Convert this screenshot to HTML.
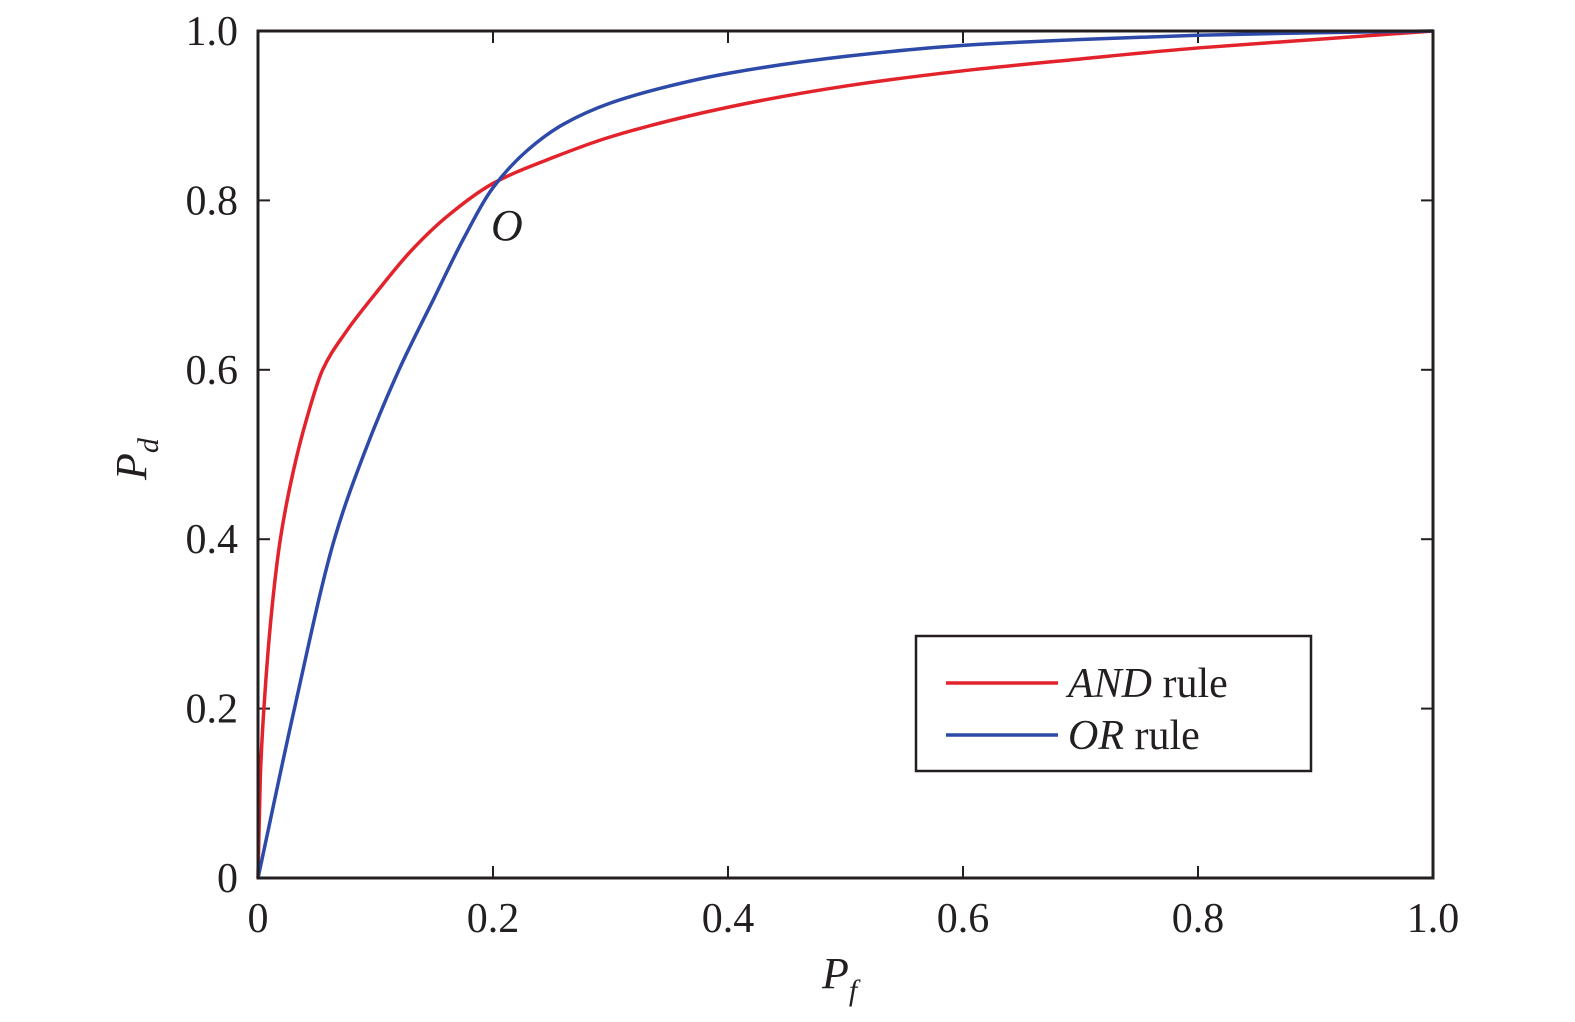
<!DOCTYPE html>
<html><head><meta charset="utf-8"><style>
html,body{margin:0;padding:0;background:#fff;width:1575px;height:1022px;overflow:hidden}
text{font-family:"Liberation Serif",serif;fill:#231f20}
</style></head><body>
<svg id="chart" width="1575" height="1022" xmlns="http://www.w3.org/2000/svg">
<g id="ticks"></g>
<g id="series"></g>
<rect x="258" y="31" width="1175" height="847" fill="none" stroke="#231f20" stroke-width="3"/>
<text x="822" y="988" font-size="44" font-style="italic">P<tspan font-size="30" dy="12">f</tspan></text>
<text transform="translate(146,480) rotate(-90)" font-size="44" font-style="italic">P<tspan font-size="30" dy="12">d</tspan></text>
<text x="491" y="240" font-size="44" font-style="italic">O</text>
<g>
<rect x="916" y="636" width="395" height="135" fill="#fff" stroke="#231f20" stroke-width="2.5"/>
<line x1="946" y1="683" x2="1058" y2="683" stroke="#e3232b" stroke-width="3.5"/>
<text x="1068" y="697" font-size="42"><tspan font-style="italic">AND</tspan> rule</text>
<line x1="946" y1="735" x2="1058" y2="735" stroke="#2e4aa8" stroke-width="3.5"/>
<text x="1068" y="749" font-size="42"><tspan font-style="italic">OR</tspan> rule</text>
</g>
</svg>
<script>
const xTicks=[0,0.2,0.4,0.6,0.8,1.0];
const yTicks=[0,0.2,0.4,0.6,0.8,1.0];
const xTickLabels=["0","0.2","0.4","0.6","0.8","1.0"];
const yTickLabels=["0","0.2","0.4","0.6","0.8","1.0"];
const andX=[0,0.002,0.006,0.012,0.019,0.03,0.042,0.055,0.075,0.1,0.13,0.16,0.2,0.25,0.3,0.4,0.5,0.6,0.7,0.8,0.9,1.0];
const andY=[0,0.12,0.22,0.32,0.4,0.48,0.545,0.6,0.645,0.69,0.74,0.78,0.82,0.85,0.875,0.91,0.935,0.953,0.967,0.98,0.99,1.0];
const orX=[0,0.031,0.065,0.09,0.12,0.15,0.175,0.2,0.23,0.26,0.3,0.35,0.4,0.5,0.6,0.7,0.8,0.9,1.0];
const orY=[0,0.2,0.4,0.5,0.6,0.685,0.755,0.815,0.86,0.89,0.915,0.935,0.95,0.97,0.983,0.99,0.995,0.998,1.0];
const X0=258,X1=1433,Y0=878,Y1=31;
function sx(v){return X0+v*(X1-X0);}
function sy(v){return Y0-v*(Y0-Y1);}
const NS="http://www.w3.org/2000/svg";
const tg=document.getElementById('ticks');
xTicks.forEach((t,i)=>{
  [[Y0,Y0-12],[Y1,Y1+12]].forEach(p=>{
    const l=document.createElementNS(NS,'line');
    
    
    l.setAttribute('x1',sx(t));l.setAttribute('x2',sx(t));l.setAttribute('y1',p[0]);l.setAttribute('y2',p[1]);
    l.setAttribute('stroke','#231f20');l.setAttribute('stroke-width','2');tg.appendChild(l);
  });
  const tx=document.createElementNS(NS,'text');
  
  
  tx.setAttribute('x',sx(t));tx.setAttribute('y',932);tx.setAttribute('font-size','42');tx.setAttribute('text-anchor','middle');
  tx.textContent=xTickLabels[i];tg.appendChild(tx);
});
yTicks.forEach((t,i)=>{
  [[X0,X0+12],[X1,X1-12]].forEach(p=>{
    const l=document.createElementNS(NS,'line');
    
    
    l.setAttribute('y1',sy(t));l.setAttribute('y2',sy(t));l.setAttribute('x1',p[0]);l.setAttribute('x2',p[1]);
    l.setAttribute('stroke','#231f20');l.setAttribute('stroke-width','2');tg.appendChild(l);
  });
  const tx=document.createElementNS(NS,'text');
  
  
  tx.setAttribute('x',238);tx.setAttribute('y',sy(t)+14);tx.setAttribute('font-size','42');tx.setAttribute('text-anchor','end');
  tx.textContent=yTickLabels[i];tg.appendChild(tx);
});
// monotone cubic (Fritsch-Carlson) in data space
function pathFor(xs,ys){
  const n=xs.length,dl=[],m=[];
  for(let i=0;i<n-1;i++)dl.push((ys[i+1]-ys[i])/(xs[i+1]-xs[i]));
  m[0]=dl[0];m[n-1]=dl[n-2];
  for(let i=1;i<n-1;i++){
    if(dl[i-1]*dl[i]<=0)m[i]=0;
    else{const h0=xs[i]-xs[i-1],h1=xs[i+1]-xs[i];const w1=2*h1+h0,w2=h1+2*h0;m[i]=(w1+w2)/(w1/dl[i-1]+w2/dl[i]);}
  }
  let d='M'+sx(xs[0])+','+sy(ys[0]);
  for(let i=0;i<n-1;i++){
    const h=xs[i+1]-xs[i];
    const c1x=xs[i]+h/3,c1y=ys[i]+m[i]*h/3;
    const c2x=xs[i+1]-h/3,c2y=ys[i+1]-m[i+1]*h/3;
    d+=' C'+sx(c1x)+','+sy(c1y)+' '+sx(c2x)+','+sy(c2y)+' '+sx(xs[i+1])+','+sy(ys[i+1]);
  }
  return d;
}
const sg=document.getElementById('series');
const pa=document.createElementNS(NS,'path');


pa.setAttribute('d',pathFor(andX,andY));pa.setAttribute('fill','none');pa.setAttribute('stroke','#e3232b');pa.setAttribute('stroke-width','3.5');
sg.appendChild(pa);
const po=document.createElementNS(NS,'path');


po.setAttribute('d',pathFor(orX,orY));po.setAttribute('fill','none');po.setAttribute('stroke','#2e4aa8');po.setAttribute('stroke-width','3.5');
sg.appendChild(po);
</script>
</body></html>
